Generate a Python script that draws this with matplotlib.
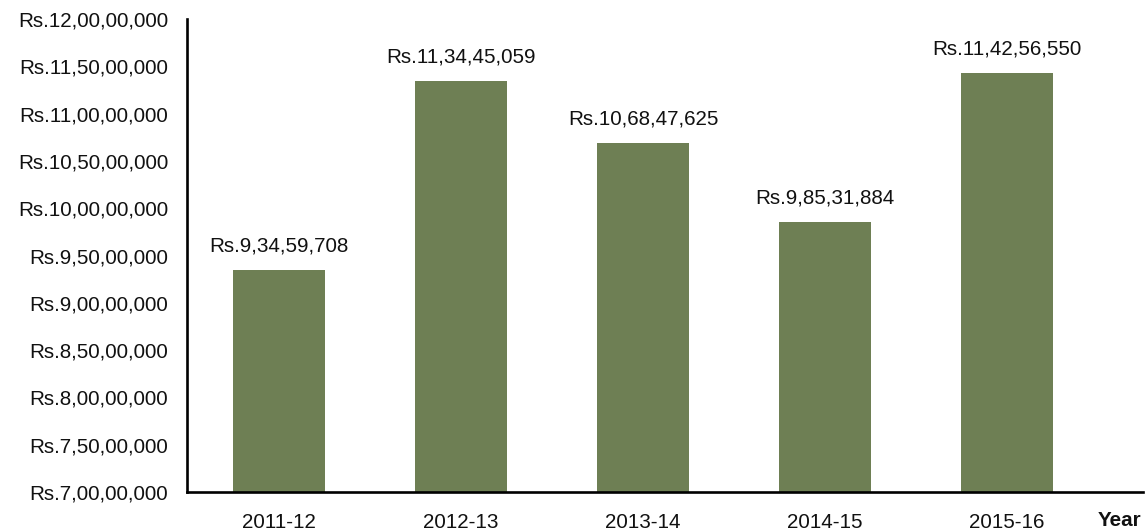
import matplotlib
matplotlib.use("Agg")
import matplotlib.pyplot as plt
from matplotlib.ticker import FuncFormatter

years = ["2011-12", "2012-13", "2013-14", "2014-15", "2015-16"]
amounts = [93459708, 113445059, 106847625, 98531884, 114256550]
y_ticks = [70000000 + 5000000 * i for i in range(11)]

BAR = "#6E7F54"
FS = 14.9
plt.rcParams['font.family'] = ['Liberation Sans', 'DejaVu Sans']


def indian(n):
    s = str(int(n))
    if len(s) <= 3:
        return s
    last3 = s[-3:]
    rest = s[:-3]
    parts = []
    while len(rest) > 2:
        parts.insert(0, rest[-2:])
        rest = rest[:-2]
    if rest:
        parts.insert(0, rest)
    return ",".join(parts + [last3])


fig = plt.figure(figsize=(11.45, 5.3), dpi=100)
ax = fig.add_axes([187 / 1145, 1 - 492 / 530, (1143 - 187) / 1145, (492 - 19) / 530])

x = list(range(len(years)))
ax.bar(x, amounts, width=0.505, color=BAR, zorder=2)

for xi, v in zip(x, amounts):
    ax.annotate("Rs." + indian(v), (xi, v), xytext=(0, 17.5), textcoords="offset points",
                ha="center", va="center", fontsize=FS, color="#111111")

ax.set_xlim(-0.505, 4.747)
ax.set_ylim(70000000, 120000000)
ax.set_yticks(y_ticks)
ax.yaxis.set_major_formatter(FuncFormatter(lambda v, p: "Rs." + indian(v)))
ax.set_xticks(x)
ax.set_xticklabels(years)
ax.tick_params(axis="both", length=0, labelsize=FS, colors="#111111")
ax.tick_params(axis="y", pad=13.5)
ax.tick_params(axis="x", pad=15)

for s in ["top", "right"]:
    ax.spines[s].set_visible(False)
for s in ["left", "bottom"]:
    ax.spines[s].set_linewidth(1.9)
    ax.spines[s].set_color("black")

fig.text(1120 / 1145, 1 - 521 / 530, "Year", ha="center", va="center",
         fontsize=FS, fontweight="bold", color="#111111")

fig.savefig("out.png", dpi=100)
